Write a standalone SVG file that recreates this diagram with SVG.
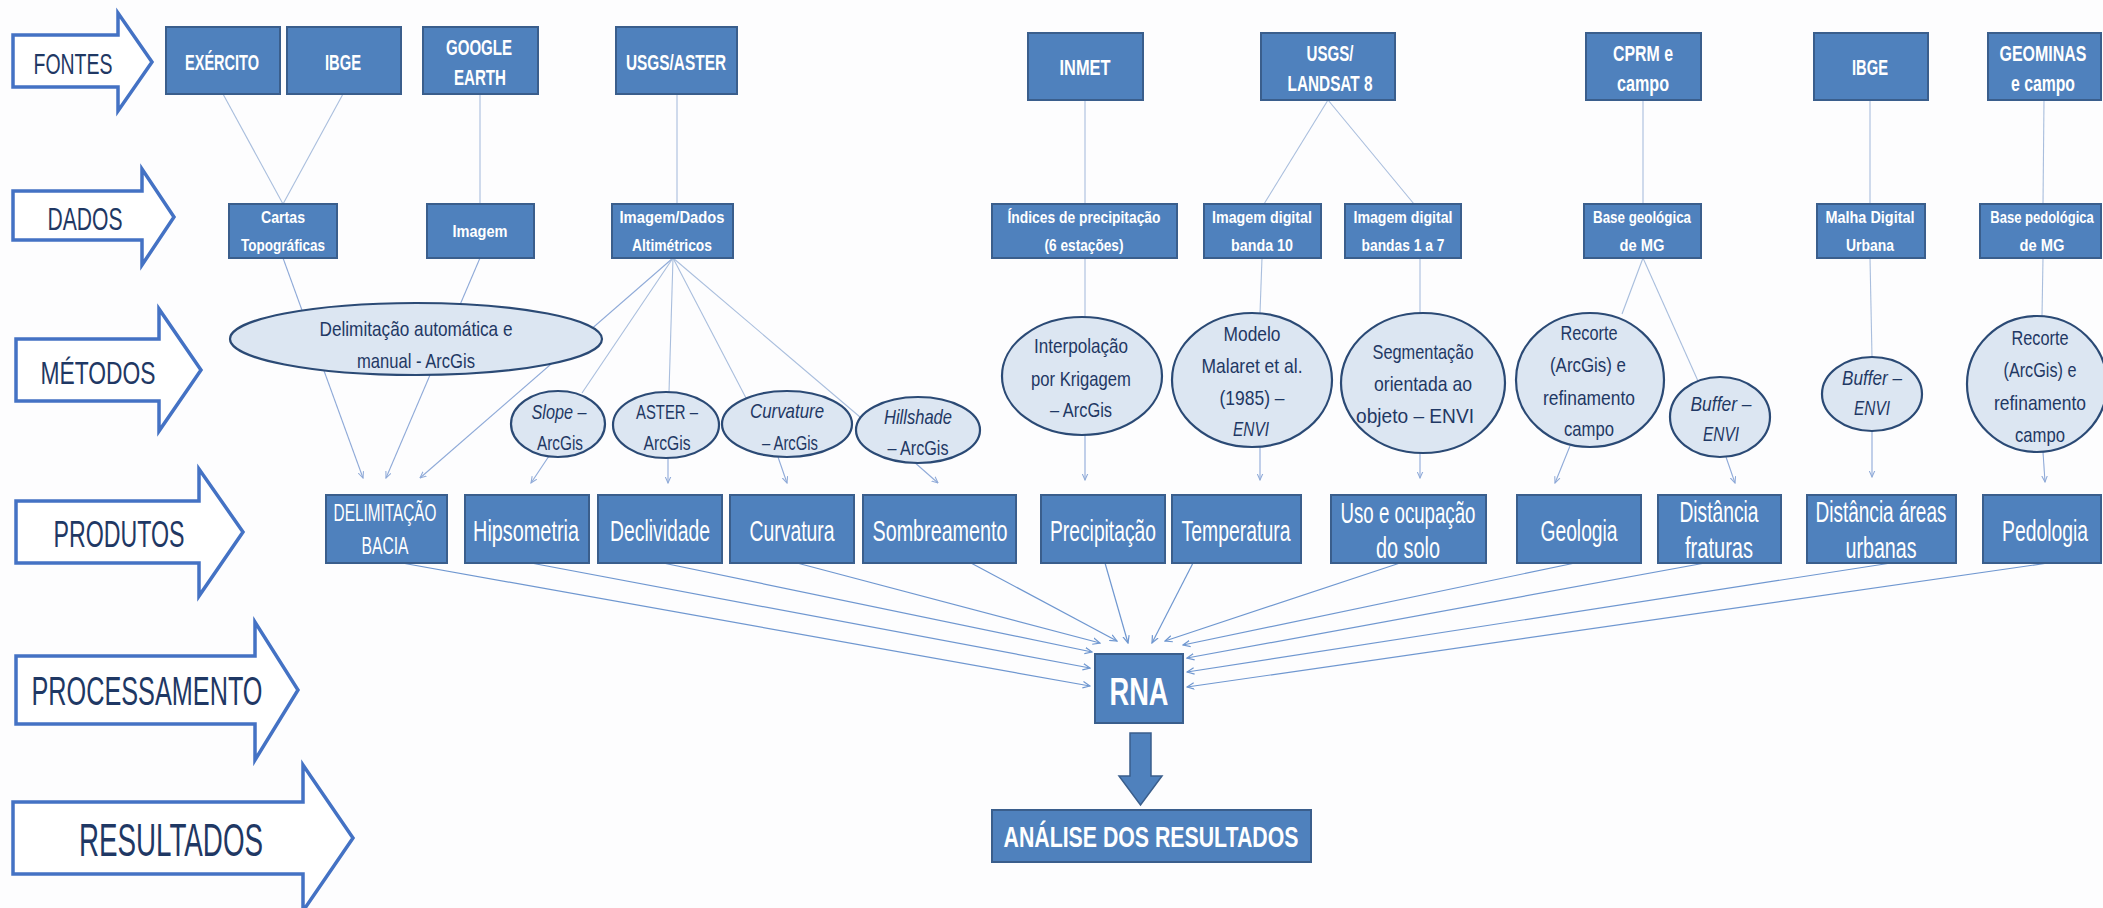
<svg xmlns="http://www.w3.org/2000/svg" width="2103" height="908" viewBox="0 0 2103 908">
<defs>
<style>
.bg{fill:#FDFDFE}
.box{fill:#4F81BD;stroke:#3A5E8C;stroke-width:2}
.ell{fill:#DCE6F2;stroke:#2B4A75;stroke-width:2.2}
.arw{fill:#FFFFFF;stroke:#4472C4;stroke-width:3.5;stroke-linejoin:miter}
.ln{stroke:#A9BEDD;stroke-width:1.1;fill:none}
.la{stroke:#8FAAD8;stroke-width:1.1;fill:none;marker-end:url(#ah1)}
.fan{stroke:#6F97D0;stroke-width:1.2;fill:none;marker-end:url(#ah2)}
text{font-family:"Liberation Sans",Arial,sans-serif;text-anchor:middle}
.tb{fill:#FFFFFF;font-weight:bold;font-size:22px}
.ts{fill:#FFFFFF;font-weight:bold;font-size:17px}
.te{fill:#1F3864;font-size:21px}
.tp{fill:#FFFFFF;font-size:29px}
.tp24{fill:#FFFFFF;font-size:24px}
.tl{fill:#1F3864}
.it{font-style:italic}
</style>
<marker id="ah1" viewBox="0 0 10 10" refX="9" refY="5" markerWidth="7" markerHeight="7" orient="auto" markerUnits="userSpaceOnUse">
<path d="M0,1 L9,5 L0,9" fill="none" stroke="#8FAAD8" stroke-width="1.5"/>
</marker>
<marker id="ah2" viewBox="0 0 10 10" refX="9" refY="5" markerWidth="8" markerHeight="8" orient="auto" markerUnits="userSpaceOnUse">
<path d="M0,1 L9,5 L0,9" fill="none" stroke="#6F97D0" stroke-width="1.5"/>
</marker>
</defs>
<rect class="bg" x="0" y="0" width="2103" height="908"/>

<!-- stage arrows -->
<g id="stage-fontes">
<polygon class="arw" points="13,35 118,35 118,13 152,62 118,111 118,87 13,87"/>
<text class="tl" x="73" y="74" font-size="30" textLength="79" lengthAdjust="spacingAndGlyphs">FONTES</text>
</g>
<g id="stage-dados">
<polygon class="arw" points="13,191 142,191 142,169 174,217 142,265 142,240 13,240"/>
<text class="tl" x="85" y="230" font-size="32" textLength="75" lengthAdjust="spacingAndGlyphs">DADOS</text>
</g>
<g id="stage-metodos">
<polygon class="arw" points="16,339 159,339 159,309 201,370 159,431 159,401 16,401"/>
<text class="tl" x="98" y="384" font-size="32" textLength="115" lengthAdjust="spacingAndGlyphs">MÉTODOS</text>
</g>
<g id="stage-produtos">
<polygon class="arw" points="16,501 199,501 199,469 243,532 199,596 199,563 16,563"/>
<text class="tl" x="119" y="547" font-size="37" textLength="131" lengthAdjust="spacingAndGlyphs">PRODUTOS</text>
</g>
<g id="stage-processamento">
<polygon class="arw" points="16,656 255,656 255,622 298,690 255,760 255,724 16,724"/>
<text class="tl" x="147" y="705" font-size="40" textLength="231" lengthAdjust="spacingAndGlyphs">PROCESSAMENTO</text>
</g>
<g id="stage-resultados">
<polygon class="arw" points="13,802 303,802 303,765 353,838 303,911 303,874 13,874"/>
<text class="tl" x="171" y="856" font-size="47" textLength="184" lengthAdjust="spacingAndGlyphs">RESULTADOS</text>
</g>

<!-- connectors -->
<g id="connectors">
<line class="ln" x1="223" y1="94" x2="283" y2="204"/>
<line class="ln" x1="343" y1="94" x2="283" y2="204"/>
<line class="ln" x1="480" y1="94" x2="480" y2="204"/>
<line class="ln" x1="677" y1="94" x2="677" y2="204"/>
<line class="ln" x1="1085" y1="100" x2="1085" y2="204"/>
<line class="ln" x1="1328" y1="100" x2="1264" y2="204"/>
<line class="ln" x1="1328" y1="100" x2="1414" y2="204"/>
<line class="ln" x1="1643" y1="100" x2="1643" y2="204"/>
<line class="ln" x1="1870" y1="100" x2="1870" y2="204"/>
<line class="ln" x1="2044" y1="100" x2="2043" y2="204"/>

<line class="la" x1="283" y1="258" x2="363" y2="478"/>
<line class="la" x1="480" y1="258" x2="386" y2="478"/>
<line class="la" x1="673" y1="258" x2="420" y2="478"/>
<line class="ln" x1="673" y1="258" x2="582" y2="393"/>
<line class="ln" x1="673" y1="258" x2="669" y2="392"/>
<line class="ln" x1="673" y1="258" x2="746" y2="398"/>
<line class="ln" x1="673" y1="258" x2="860" y2="417"/>
<line class="la" x1="549" y1="456" x2="531" y2="483"/>
<line class="la" x1="668" y1="458" x2="668" y2="483"/>
<line class="la" x1="778" y1="457" x2="787" y2="483"/>
<line class="la" x1="913" y1="461" x2="938" y2="483"/>

<line class="ln" x1="1085" y1="258" x2="1085" y2="317"/>
<line class="la" x1="1085" y1="435" x2="1085" y2="480"/>
<line class="ln" x1="1262" y1="258" x2="1260" y2="313"/>
<line class="la" x1="1260" y1="447" x2="1260" y2="480"/>
<line class="ln" x1="1420" y1="258" x2="1420" y2="313"/>
<line class="la" x1="1420" y1="453" x2="1420" y2="478"/>
<line class="ln" x1="1643" y1="258" x2="1622" y2="314"/>
<line class="ln" x1="1643" y1="258" x2="1698" y2="381"/>
<line class="la" x1="1570" y1="446" x2="1555" y2="483"/>
<line class="la" x1="1726" y1="457" x2="1735" y2="483"/>
<line class="ln" x1="1870" y1="258" x2="1872" y2="357"/>
<line class="la" x1="1872" y1="431" x2="1872" y2="477"/>
<line class="ln" x1="2043" y1="258" x2="2042" y2="316"/>
<line class="la" x1="2043" y1="452" x2="2045" y2="482"/>

<line class="fan" x1="402" y1="563" x2="1090" y2="686"/>
<line class="fan" x1="531" y1="563" x2="1090" y2="668"/>
<line class="fan" x1="663" y1="563" x2="1092" y2="652"/>
<line class="fan" x1="797" y1="563" x2="1100" y2="643"/>
<line class="fan" x1="971" y1="563" x2="1117" y2="641"/>
<line class="fan" x1="1105" y1="563" x2="1128" y2="643"/>
<line class="fan" x1="1193" y1="563" x2="1152" y2="643"/>
<line class="fan" x1="1400" y1="563" x2="1165" y2="641"/>
<line class="fan" x1="1575" y1="563" x2="1183" y2="645"/>
<line class="fan" x1="1705" y1="563" x2="1187" y2="658"/>
<line class="fan" x1="1891" y1="563" x2="1187" y2="672"/>
<line class="fan" x1="2048" y1="563" x2="1187" y2="687"/>

<polygon points="1130,733 1151,733 1151,776 1162,776 1140.5,805 1119,776 1130,776" fill="#4F81BD" stroke="#3A5E8C" stroke-width="1.5"/>
</g>

<!-- FONTES row -->
<g id="n-exercito"><rect class="box" x="166" y="27" width="114" height="67"/><text class="tb" x="222" y="70" textLength="74" lengthAdjust="spacingAndGlyphs">EXÉRCITO</text></g>
<g id="n-ibge1"><rect class="box" x="287" y="27" width="114" height="67"/><text class="tb" x="343" y="70" textLength="36" lengthAdjust="spacingAndGlyphs">IBGE</text></g>
<g id="n-google"><rect class="box" x="423" y="27" width="115" height="67"/><text class="tb" x="479" y="55" textLength="66" lengthAdjust="spacingAndGlyphs">GOOGLE</text><text class="tb" x="480" y="85" textLength="52" lengthAdjust="spacingAndGlyphs">EARTH</text></g>
<g id="n-usgs-aster"><rect class="box" x="616" y="27" width="121" height="67"/><text class="tb" x="676" y="70" textLength="100" lengthAdjust="spacingAndGlyphs">USGS/ASTER</text></g>
<g id="n-inmet"><rect class="box" x="1028" y="33" width="115" height="67"/><text class="tb" x="1085" y="75" textLength="51" lengthAdjust="spacingAndGlyphs">INMET</text></g>
<g id="n-landsat"><rect class="box" x="1261" y="33" width="134" height="67"/><text class="tb" x="1330" y="61" textLength="47" lengthAdjust="spacingAndGlyphs">USGS/</text><text class="tb" x="1330" y="91" textLength="85" lengthAdjust="spacingAndGlyphs">LANDSAT 8</text></g>
<g id="n-cprm"><rect class="box" x="1586" y="33" width="115" height="67"/><text class="tb" x="1643" y="61" textLength="60" lengthAdjust="spacingAndGlyphs">CPRM e</text><text class="tb" x="1643" y="91" textLength="52" lengthAdjust="spacingAndGlyphs">campo</text></g>
<g id="n-ibge2"><rect class="box" x="1814" y="33" width="114" height="67"/><text class="tb" x="1870" y="75" textLength="36" lengthAdjust="spacingAndGlyphs">IBGE</text></g>
<g id="n-geominas"><rect class="box" x="1988" y="33" width="113" height="67"/><text class="tb" transform="translate(2043,61) scale(0.727,1)" x="0" y="0">GEOMINAS</text><text class="tb" x="2043" y="91" textLength="64" lengthAdjust="spacingAndGlyphs">e campo</text></g>

<!-- DADOS row -->
<g id="n-cartas"><rect class="box" x="229" y="204" width="108" height="54"/><text class="ts" x="283" y="223" textLength="44" lengthAdjust="spacingAndGlyphs">Cartas</text><text class="ts" x="283" y="251" textLength="84" lengthAdjust="spacingAndGlyphs">Topográficas</text></g>
<g id="n-imagem"><rect class="box" x="427" y="204" width="107" height="54"/><text class="ts" x="480" y="237" textLength="55" lengthAdjust="spacingAndGlyphs">Imagem</text></g>
<g id="n-altimetricos"><rect class="box" x="612" y="204" width="121" height="54"/><text class="ts" x="672" y="223" textLength="105" lengthAdjust="spacingAndGlyphs">Imagem/Dados</text><text class="ts" x="672" y="251" textLength="80" lengthAdjust="spacingAndGlyphs">Altimétricos</text></g>
<g id="n-indices"><rect class="box" x="992" y="204" width="185" height="54"/><text class="ts" x="1084" y="223" textLength="153" lengthAdjust="spacingAndGlyphs">Índices de precipitação</text><text class="ts" x="1084" y="251" textLength="79" lengthAdjust="spacingAndGlyphs">(6 estações)</text></g>
<g id="n-banda10"><rect class="box" x="1204" y="204" width="117" height="54"/><text class="ts" x="1262" y="223" textLength="100" lengthAdjust="spacingAndGlyphs">Imagem digital</text><text class="ts" x="1262" y="251" textLength="62" lengthAdjust="spacingAndGlyphs">banda 10</text></g>
<g id="n-bandas17"><rect class="box" x="1345" y="204" width="116" height="54"/><text class="ts" x="1403" y="223" textLength="99" lengthAdjust="spacingAndGlyphs">Imagem digital</text><text class="ts" x="1403" y="251" textLength="83" lengthAdjust="spacingAndGlyphs">bandas 1 a 7</text></g>
<g id="n-basegeo"><rect class="box" x="1584" y="204" width="117" height="54"/><text class="ts" x="1642" y="223" textLength="98" lengthAdjust="spacingAndGlyphs">Base geológica</text><text class="ts" x="1642" y="251" textLength="45" lengthAdjust="spacingAndGlyphs">de MG</text></g>
<g id="n-malha"><rect class="box" x="1817" y="204" width="108" height="54"/><text class="ts" x="1870" y="223" textLength="89" lengthAdjust="spacingAndGlyphs">Malha Digital</text><text class="ts" x="1870" y="251" textLength="48" lengthAdjust="spacingAndGlyphs">Urbana</text></g>
<g id="n-basepedo"><rect class="box" x="1980" y="204" width="121" height="54"/><text class="ts" transform="translate(2042,223) scale(0.767,1)" x="0" y="0">Base pedológica</text><text class="ts" x="2042" y="251" textLength="45" lengthAdjust="spacingAndGlyphs">de MG</text></g>

<!-- MÉTODOS ellipses -->
<g id="m-delimitacao"><ellipse class="ell" cx="416" cy="339" rx="186" ry="36"/><text class="te" x="416" y="335.5" textLength="193" lengthAdjust="spacingAndGlyphs">Delimitação automática e</text><text class="te" x="416" y="367.5" textLength="118" lengthAdjust="spacingAndGlyphs">manual - ArcGis</text></g>
<g id="m-slope"><ellipse class="ell" cx="558" cy="424" rx="47" ry="33"/><text class="te it" x="559" y="418.5" textLength="55" lengthAdjust="spacingAndGlyphs">Slope –</text><text class="te" x="560" y="449.5" textLength="46" lengthAdjust="spacingAndGlyphs">ArcGis</text></g>
<g id="m-aster"><ellipse class="ell" cx="666" cy="425" rx="53" ry="33"/><text class="te" x="667" y="418.5" textLength="62" lengthAdjust="spacingAndGlyphs">ASTER –</text><text class="te" x="667" y="449.5" textLength="47" lengthAdjust="spacingAndGlyphs">ArcGis</text></g>
<g id="m-curvature"><ellipse class="ell" cx="787" cy="424" rx="65" ry="33"/><text class="te it" x="787" y="417.5" textLength="74" lengthAdjust="spacingAndGlyphs">Curvature</text><text class="te" x="790" y="449.5" textLength="56" lengthAdjust="spacingAndGlyphs">– ArcGis</text></g>
<g id="m-hillshade"><ellipse class="ell" cx="918" cy="430" rx="62" ry="33"/><text class="te it" x="918" y="423.5" textLength="68" lengthAdjust="spacingAndGlyphs">Hillshade</text><text class="te" x="918" y="454.5" textLength="61" lengthAdjust="spacingAndGlyphs">– ArcGis</text></g>
<g id="m-krigagem"><ellipse class="ell" cx="1082" cy="376" rx="80" ry="59"/><text class="te" x="1081" y="352.5" textLength="94" lengthAdjust="spacingAndGlyphs">Interpolação</text><text class="te" x="1081" y="385.5" textLength="100" lengthAdjust="spacingAndGlyphs">por Krigagem</text><text class="te" x="1081" y="416.5" textLength="62" lengthAdjust="spacingAndGlyphs">– ArcGis</text></g>
<g id="m-malaret"><ellipse class="ell" cx="1252" cy="380" rx="80" ry="67"/><text class="te" x="1252" y="340.5" textLength="57" lengthAdjust="spacingAndGlyphs">Modelo</text><text class="te" x="1252" y="372.5" textLength="101" lengthAdjust="spacingAndGlyphs">Malaret et al.</text><text class="te" x="1252" y="404.5" textLength="65" lengthAdjust="spacingAndGlyphs">(1985) –</text><text class="te it" x="1251" y="435.5" textLength="36" lengthAdjust="spacingAndGlyphs">ENVI</text></g>
<g id="m-segmentacao"><ellipse class="ell" cx="1423" cy="383" rx="82" ry="70"/><text class="te" x="1423" y="358.5" textLength="101" lengthAdjust="spacingAndGlyphs">Segmentação</text><text class="te" x="1423" y="390.5" textLength="98" lengthAdjust="spacingAndGlyphs">orientada ao</text><text class="te" x="1415" y="422.5" textLength="118" lengthAdjust="spacingAndGlyphs">objeto – ENVI</text></g>
<g id="m-recorte-geo"><ellipse class="ell" cx="1590" cy="380" rx="74" ry="67"/><text class="te" x="1589" y="339.5" textLength="57" lengthAdjust="spacingAndGlyphs">Recorte</text><text class="te" x="1588" y="371.5" textLength="76" lengthAdjust="spacingAndGlyphs">(ArcGis) e</text><text class="te" x="1589" y="404.5" textLength="92" lengthAdjust="spacingAndGlyphs">refinamento</text><text class="te" x="1589" y="435.5" textLength="50" lengthAdjust="spacingAndGlyphs">campo</text></g>
<g id="m-buffer-fraturas"><ellipse class="ell" cx="1720" cy="417" rx="50" ry="40"/><text class="te it" x="1721" y="410.5" textLength="61" lengthAdjust="spacingAndGlyphs">Buffer –</text><text class="te it" x="1721" y="440.5" textLength="36" lengthAdjust="spacingAndGlyphs">ENVI</text></g>
<g id="m-buffer-urbanas"><ellipse class="ell" cx="1872" cy="394" rx="50" ry="37"/><text class="te it" x="1872" y="384.5" textLength="60" lengthAdjust="spacingAndGlyphs">Buffer –</text><text class="te it" x="1872" y="414.5" textLength="36" lengthAdjust="spacingAndGlyphs">ENVI</text></g>
<g id="m-recorte-pedo"><ellipse class="ell" cx="2037" cy="384" rx="70" ry="68"/><text class="te" x="2040" y="344.5" textLength="57" lengthAdjust="spacingAndGlyphs">Recorte</text><text class="te" x="2040" y="376.5" textLength="73" lengthAdjust="spacingAndGlyphs">(ArcGis) e</text><text class="te" x="2040" y="409.5" textLength="92" lengthAdjust="spacingAndGlyphs">refinamento</text><text class="te" x="2040" y="441.5" textLength="50" lengthAdjust="spacingAndGlyphs">campo</text></g>

<!-- PRODUTOS row -->
<g id="p-delimitacao"><rect class="box" x="326" y="495" width="121" height="68"/><text class="tp24" transform="translate(385,521) scale(0.639,1)" x="0" y="0">DELIMITAÇÃO</text><text class="tp24" transform="translate(385,554) scale(0.653,1)" x="0" y="0">BACIA</text></g>
<g id="p-hipsometria"><rect class="box" x="465" y="495" width="124" height="68"/><text class="tp" transform="translate(526,540.5) scale(0.685,1)" x="0" y="0">Hipsometria</text></g>
<g id="p-declividade"><rect class="box" x="598" y="495" width="124" height="68"/><text class="tp" transform="translate(660,540.5) scale(0.667,1)" x="0" y="0">Declividade</text></g>
<g id="p-curvatura"><rect class="box" x="730" y="495" width="124" height="68"/><text class="tp" transform="translate(792,540.5) scale(0.668,1)" x="0" y="0">Curvatura</text></g>
<g id="p-sombreamento"><rect class="box" x="863" y="495" width="153" height="68"/><text class="tp" transform="translate(940,540.5) scale(0.681,1)" x="0" y="0">Sombreamento</text></g>
<g id="p-precipitacao"><rect class="box" x="1041" y="495" width="124" height="68"/><text class="tp" transform="translate(1103,540.5) scale(0.664,1)" x="0" y="0">Precipitação</text></g>
<g id="p-temperatura"><rect class="box" x="1172" y="495" width="129" height="68"/><text class="tp" transform="translate(1236,540.5) scale(0.669,1)" x="0" y="0">Temperatura</text></g>
<g id="p-uso"><rect class="box" x="1331" y="495" width="155" height="68"/><text class="tp" transform="translate(1408,523) scale(0.644,1)" x="0" y="0">Uso e ocupação</text><text class="tp" transform="translate(1408,558) scale(0.684,1)" x="0" y="0">do solo</text></g>
<g id="p-geologia"><rect class="box" x="1517" y="495" width="124" height="68"/><text class="tp" transform="translate(1579,540.5) scale(0.664,1)" x="0" y="0">Geologia</text></g>
<g id="p-fraturas"><rect class="box" x="1658" y="495" width="123" height="68"/><text class="tp" transform="translate(1719,522) scale(0.663,1)" x="0" y="0">Distância</text><text class="tp" transform="translate(1719,558) scale(0.692,1)" x="0" y="0">fraturas</text></g>
<g id="p-urbanas"><rect class="box" x="1807" y="495" width="149" height="68"/><text class="tp" transform="translate(1881,522) scale(0.656,1)" x="0" y="0">Distância áreas</text><text class="tp" transform="translate(1881,558) scale(0.678,1)" x="0" y="0">urbanas</text></g>
<g id="p-pedologia"><rect class="box" x="1983" y="495" width="118" height="68"/><text class="tp" transform="translate(2045,540.5) scale(0.667,1)" x="0" y="0">Pedologia</text></g>

<!-- processing / results -->
<g id="n-rna"><rect class="box" x="1095" y="654" width="88" height="69"/><text x="1139" y="705" fill="#FFFFFF" font-weight="bold" font-size="38" textLength="59" lengthAdjust="spacingAndGlyphs">RNA</text></g>
<g id="n-analise"><rect class="box" x="992" y="810" width="319" height="52"/><text x="1151" y="847" fill="#FFFFFF" font-weight="bold" font-size="30" textLength="295" lengthAdjust="spacingAndGlyphs">ANÁLISE DOS RESULTADOS</text></g>
</svg>
